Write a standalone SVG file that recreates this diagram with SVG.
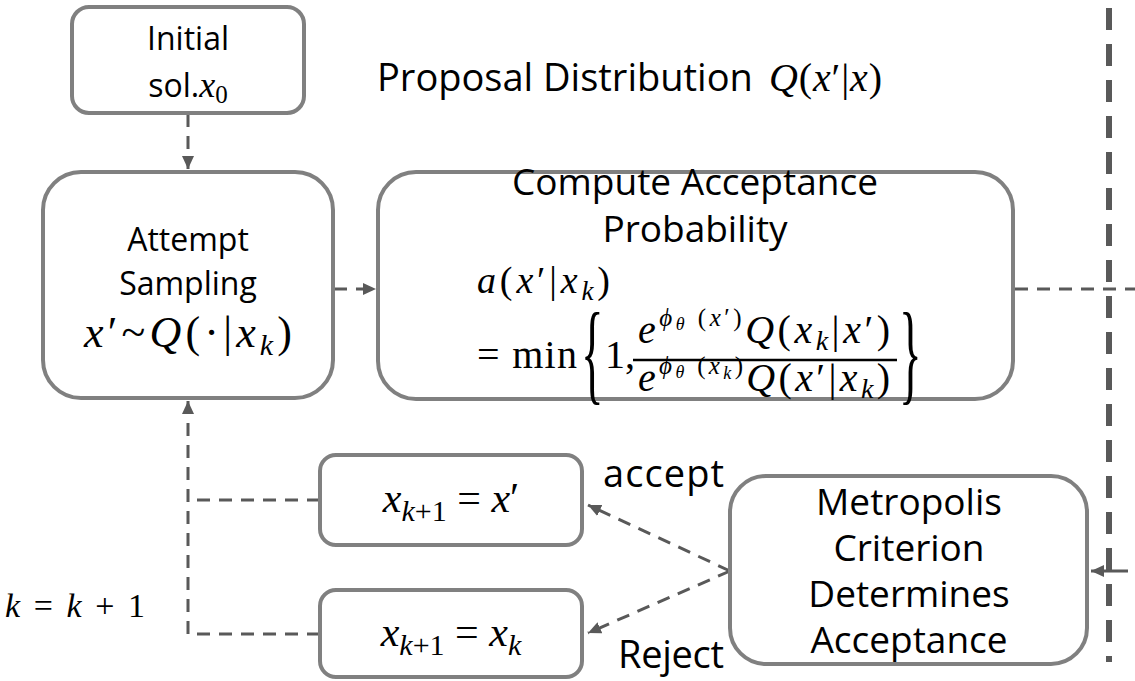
<svg xmlns="http://www.w3.org/2000/svg" width="1135" height="681" viewBox="0 0 1135 681">
<style>
.box{fill:#fff;stroke:#808080;stroke-width:4}
.t{font-family:"Open Sans","Liberation Sans",sans-serif;fill:#000}
.m{font-family:"Liberation Serif","DejaVu Serif",serif;font-style:italic;fill:#000}
.u{font-style:normal}
.c{stroke:#595959;stroke-width:3;fill:none;stroke-dasharray:13 9}
.cs{stroke:#595959;stroke-width:3;fill:none}
.big{stroke:#595959;stroke-width:6;fill:none;stroke-dasharray:22 14}
</style>
<defs>
<marker id="ah" markerUnits="userSpaceOnUse" markerWidth="14" markerHeight="14" refX="13" refY="7" orient="auto">
<path d="M0,1 L13,7 L0,13 Z" fill="#595959"/>
</marker>
</defs>

<g id="connectors">
<line class="c" x1="188" y1="114" x2="188" y2="169" marker-end="url(#ah)"/>
<line class="c" x1="334" y1="289" x2="376" y2="289" marker-end="url(#ah)"/>
<line class="c" x1="1015" y1="289" x2="1135" y2="289"/>
<line class="big" x1="1109" y1="8" x2="1109" y2="662"/>
<line class="cs" x1="1128" y1="571" x2="1091" y2="571" marker-end="url(#ah)"/>
<line class="c" x1="730" y1="571" x2="588" y2="505" marker-end="url(#ah)"/>
<line class="c" x1="730" y1="571" x2="588" y2="633" marker-end="url(#ah)"/>
<polyline class="c" points="320,500 188,500"/>
<polyline class="c" points="320,634 188,634 188,401" marker-end="url(#ah)"/>
</g>

<g id="initial">
<rect class="box" x="72" y="7" width="232" height="106" rx="17"/>
<text class="t" x="188" y="50" font-size="32" text-anchor="middle">Initial</text>
<text class="t" x="188" y="97" font-size="32" text-anchor="middle">sol.<tspan class="m" font-size="36">x</tspan><tspan class="m u" font-size="25" dy="6">0</tspan></text>
</g>

<g id="proposal">
<text class="t" x="377" y="91" font-size="38">Proposal Distribution</text>
<text class="m" x="769" y="91" font-size="40" textLength="113">Q<tspan class="u">(</tspan>x<tspan class="u">′|</tspan>x<tspan class="u">)</tspan></text>
</g>

<g id="attempt">
<rect class="box" x="43" y="172" width="290" height="226" rx="38"/>
<text class="t" x="188" y="251" font-size="32" text-anchor="middle">Attempt</text>
<text class="t" x="188" y="295" font-size="32" text-anchor="middle">Sampling</text>
<text class="m" x="188" y="347" font-size="44" text-anchor="middle" textLength="208">x<tspan class="u">′~</tspan>Q<tspan class="u">(·|</tspan>x<tspan font-size="30" dy="8">k</tspan><tspan class="u" dy="-8">)</tspan></text>
</g>

<g id="compute">
<rect class="box" x="378" y="172" width="635" height="227" rx="38"/>
<text class="t" x="695" y="195" font-size="37" text-anchor="middle">Compute Acceptance</text>
<text class="t" x="695" y="242" font-size="37" text-anchor="middle">Probability</text>
<text class="m" x="477" y="293" font-size="38" textLength="133">a<tspan class="u">(</tspan>x<tspan class="u">′|</tspan>x<tspan font-size="27" dy="7">k</tspan><tspan class="u" dy="-7">)</tspan></text>
<text class="m u" x="477" y="368" font-size="40" textLength="100">= min</text>
<text class="m u" x="0" y="0" font-size="112" transform="translate(581,390) scale(0.42,1)">{</text>
<text class="m u" x="605" y="368" font-size="40">1,</text>
<text class="m" x="638" y="343" font-size="40" textLength="252">e<tspan font-size="25" dy="-17">ϕ</tspan><tspan font-size="18" dy="4">θ</tspan><tspan class="u" font-size="25" dy="-4"> (</tspan><tspan font-size="25">x</tspan><tspan class="u" font-size="25">′)</tspan><tspan dy="17">Q</tspan><tspan class="u">(</tspan>x<tspan font-size="28" dy="7">k</tspan><tspan class="u" dy="-7">|</tspan>x<tspan class="u">′)</tspan></text>
<line x1="633" y1="360" x2="897" y2="360" stroke="#000" stroke-width="2.5"/>
<text class="m" x="638" y="391" font-size="40" textLength="252">e<tspan font-size="25" dy="-17">ϕ</tspan><tspan font-size="18" dy="4">θ</tspan><tspan class="u" font-size="25" dy="-4"> (</tspan><tspan font-size="25">x</tspan><tspan font-size="18" dy="5">k</tspan><tspan class="u" font-size="25" dy="-5">)</tspan><tspan dy="17">Q</tspan><tspan class="u">(</tspan>x<tspan class="u">′|</tspan>x<tspan font-size="28" dy="7">k</tspan><tspan class="u" dy="-7">)</tspan></text>
<text class="m u" x="0" y="0" font-size="112" transform="translate(899,390) scale(0.42,1)">}</text>
</g>

<g id="accept-box">
<rect class="box" x="320" y="455" width="262" height="90" rx="16"/>
<text class="m" x="451" y="512" font-size="42" text-anchor="middle">x<tspan font-size="30" dy="9">k</tspan><tspan class="u" font-size="30">+1</tspan><tspan class="u" dy="-9"> = </tspan>x<tspan class="u">′</tspan></text>
</g>

<g id="reject-box">
<rect class="box" x="320" y="590" width="262" height="87" rx="16"/>
<text class="m" x="451" y="646" font-size="42" text-anchor="middle">x<tspan font-size="30" dy="9">k</tspan><tspan class="u" font-size="30">+1</tspan><tspan class="u" dy="-9"> = </tspan>x<tspan font-size="30" dy="9">k</tspan></text>
</g>

<g id="metropolis">
<rect class="box" x="730" y="476" width="357" height="188" rx="36"/>
<text class="t" x="909" y="515" font-size="37" text-anchor="middle">Metropolis</text>
<text class="t" x="909" y="561" font-size="37" text-anchor="middle">Criterion</text>
<text class="t" x="909" y="607" font-size="37" text-anchor="middle">Determines</text>
<text class="t" x="909" y="653" font-size="37" text-anchor="middle">Acceptance</text>
</g>

<text class="t" x="603" y="487" font-size="38" textLength="121">accept</text>
<text class="t" x="618" y="668" font-size="38" textLength="106">Reject</text>
<text class="m" x="5" y="617" font-size="34" textLength="140">k <tspan class="u">=</tspan> k <tspan class="u">+ 1</tspan></text>
</svg>
